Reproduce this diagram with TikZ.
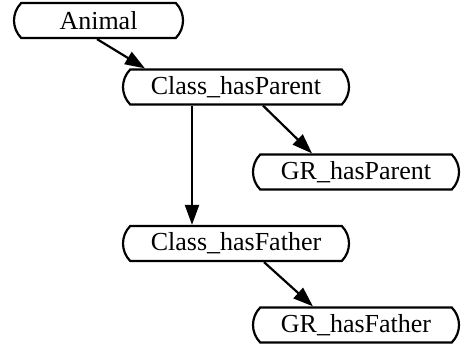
\documentclass[tikz,border=0pt]{standalone}
\usepackage{fontspec}
\setmainfont{Liberation Serif}
\usetikzlibrary{shapes.misc,arrows.meta}
\tikzset{
  cls/.style={draw, line width=2.2pt, rounded rectangle, rounded rectangle arc length=90,
    inner sep=0pt, minimum height=35pt, font=\fontsize{26}{30}\selectfont},
  edge/.style={line width=2.2pt, -{Triangle[length=20pt,width=14pt]}}
}
\begin{document}
\begin{tikzpicture}[x=1pt,y=1pt]
\useasboundingbox (0,0) rectangle (461,347);
\node[cls, minimum width=169pt] (A) at (98.5,326.5) {Animal};
\node[cls, minimum width=226pt] (CP) at (236,260) {Class\_hasParent};
\node[cls, minimum width=206pt] (GP) at (356,175) {GR\_hasParent};
\node[cls, minimum width=226pt] (CF) at (236,103.5) {Class\_hasFather};
\node[cls, minimum width=206pt] (GF) at (356,22) {GR\_hasFather};
\draw[edge] ([xshift=-1.5pt]A.south) -- ([xshift=-91pt]CP.north);
\draw[edge] ([xshift=27pt]CP.south) -- ([xshift=-44pt]GP.north);
\draw[edge] ([xshift=-44pt]CP.south) -- ([xshift=-44pt]CF.north);
\draw[edge] ([xshift=28pt]CF.south) -- ([xshift=-43pt]GF.north);
\end{tikzpicture}
\end{document}
